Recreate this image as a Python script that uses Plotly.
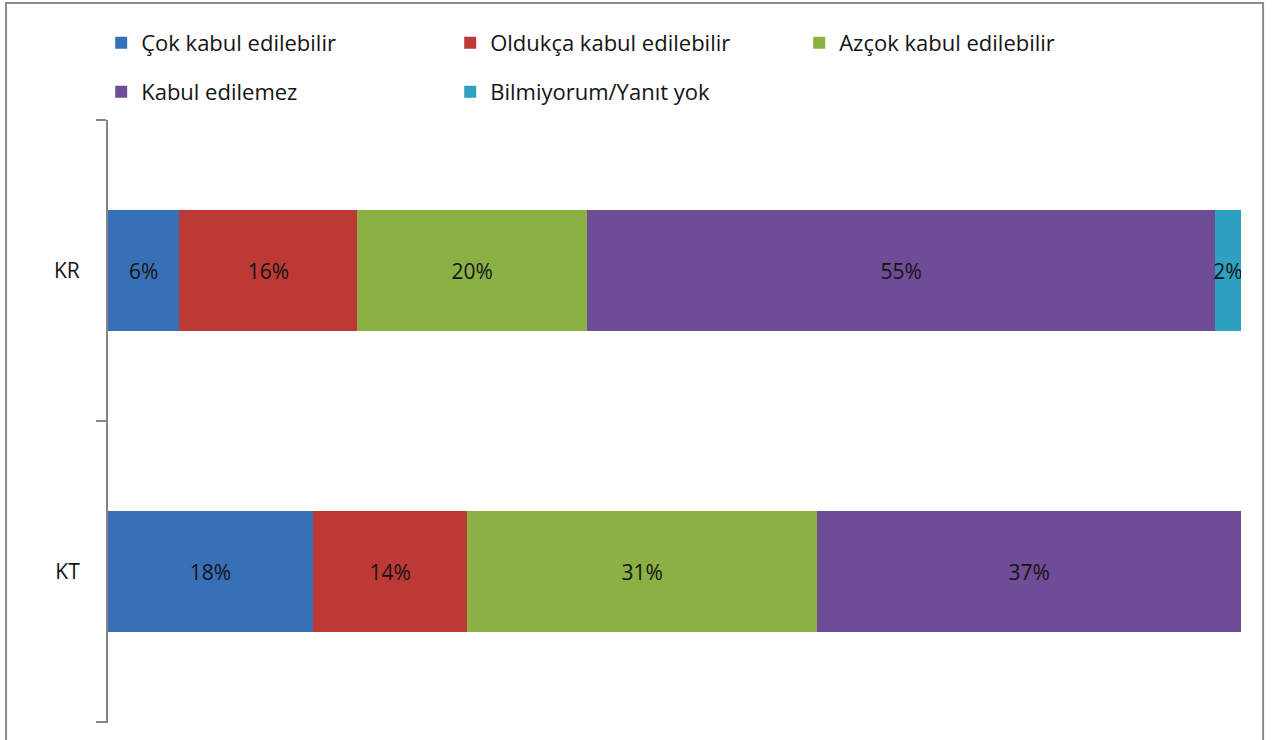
import plotly.graph_objects as go

categories = ["KR", "KT"]
series_names = ["Çok kabul edilebilir", "Oldukça kabul edilebilir", "Azçok kabul edilebilir",
                "Kabul edilemez", "Bilmiyorum/Yanıt yok"]
cok = [6.3, 18.1]
oldukca = [15.7, 13.6]
azcok = [20.3, 30.9]
kabul_edilemez = [55.4, 37.4]
bilmiyorum = [2.3, 0.0]
values = [cok, oldukca, azcok, kabul_edilemez, bilmiyorum]
colors = ["#3870B8", "#BC3936", "#8BB043", "#6F4D96", "#2EA0C2"]
legend_ids = ["legend", "legend", "legend", "legend2", "legend2"]

FONT = "Open Sans"
fig = go.Figure()
for name, vals, col, lg in zip(series_names, values, colors, legend_ids):
    texts = [f"{v:.0f}%" if v > 0 else "" for v in vals]
    fig.add_trace(go.Bar(
        y=categories, x=vals, name=name, orientation="h",
        marker=dict(color=col, line=dict(width=0)),
        text=texts, textposition="inside", insidetextanchor="middle", textangle=0,
        textfont=dict(family=FONT, size=21, color="#141414"),
        legend=lg, hoverinfo="skip",
    ))

legend_common = dict(orientation="h", xanchor="left", yanchor="middle", traceorder="normal",
                     entrywidth=304, font=dict(family=FONT, size=22, color="#141414"),
                     bgcolor="rgba(0,0,0,0)")

fig.update_layout(
    width=1272, height=740,
    barmode="stack", bargap=0.6,
    plot_bgcolor="white", paper_bgcolor="white",
    margin=dict(l=108, r=31, t=120, b=17),
    uniformtext=dict(minsize=21, mode="show"),
    showlegend=True,
    legend=dict(x=-0.006, y=1.1277, **legend_common),
    legend2=dict(x=-0.006, y=1.0464, **legend_common),
    xaxis=dict(range=[0, 100], visible=False, showgrid=False, zeroline=False),
    yaxis=dict(categoryorder="array", categoryarray=categories[::-1],
               range=[-0.503, 1.5], showline=True, linecolor="#868686", linewidth=2,
               ticks="outside", ticklen=10, tickwidth=2, tickcolor="#868686",
               tickson="boundaries", showgrid=False, ticklabelstandoff=22,
               tickfont=dict(family=FONT, size=21, color="#141414")),
    shapes=[dict(type="rect", xref="paper", yref="paper",
                 x0=-0.0900, x1=1.0195, y0=-0.2, y1=1.194,
                 line=dict(color="#8c8c8c", width=2), fillcolor="rgba(0,0,0,0)", layer="below")],
)

fig.write_html("out.html", config={"displayModeBar": False},
               post_script="document.body.style.margin='0';")
